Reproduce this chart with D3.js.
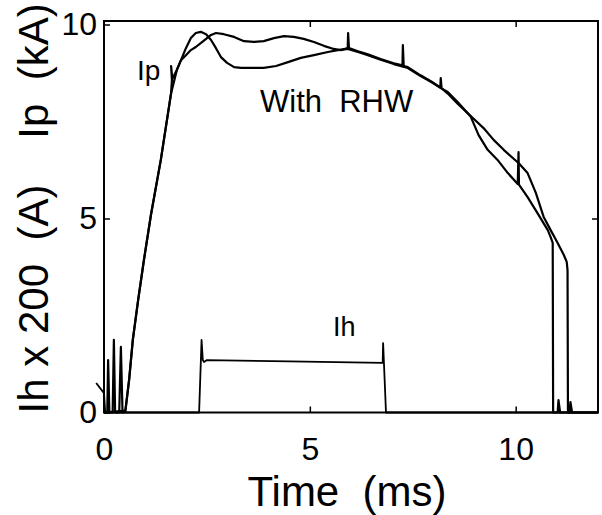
<!DOCTYPE html>
<html>
<head>
<meta charset="utf-8">
<script src="https://d3js.org/d3.v7.min.js"></script>
<style>
body { margin: 0; background: #fff; }
text { font-family: "Liberation Sans", Arial, sans-serif; fill: #000; }
</style>
</head>
<body>
<div id="chart"></div>
<script>
// Ip trace that peaks early then dips (time ms, current kA)
var ipDip = [
  [0, 0], [0.08, 0], [0.10, 1.35], [0.13, 0], [0.21, 0], [0.24, 1.87], [0.27, 0],
  [0.37, 0], [0.41, 1.69], [0.45, 0], [0.52, 0.05], [0.61, 0.84], [0.70, 1.87],
  [0.83, 2.90], [0.97, 3.93], [1.14, 5.09], [1.38, 6.51], [1.63, 8.23], [1.65, 8.57],
  [1.63, 8.93], [1.66, 8.60], [1.77, 8.83], [1.87, 9.08], [1.99, 9.39], [2.11, 9.65],
  [2.23, 9.78], [2.35, 9.81], [2.48, 9.75], [2.60, 9.60], [2.72, 9.39], [2.84, 9.16],
  [2.99, 9.01], [3.16, 8.90], [3.33, 8.88], [3.57, 8.88], [3.88, 8.88], [4.18, 8.93],
  [4.47, 9.03], [4.78, 9.14], [5.10, 9.21], [5.44, 9.29], [5.68, 9.34], [5.92, 9.37],
  [6.17, 9.29], [6.41, 9.21], [6.72, 9.09], [7.04, 8.98], [7.38, 8.88], [7.69, 8.67],
  [7.94, 8.52], [8.18, 8.36], [8.35, 8.26], [8.59, 8.00], [8.91, 7.62], [9.10, 7.15],
  [9.32, 6.77], [9.56, 6.51], [9.81, 6.17], [10.05, 5.89], [10.07, 6.71], [10.08, 5.87],
  [10.29, 5.55], [10.53, 5.14], [10.78, 4.70], [10.85, 4.52], [10.90, 4.37], [10.91, 0],
  [11.02, 0], [11.04, 0.32], [11.08, 0], [12, 0]
];

// Ip trace that stays high
var ipHigh = [
  [0, 0], [0.52, 0.05], [0.61, 0.84], [0.70, 1.87], [0.83, 2.90], [0.97, 3.93],
  [1.14, 5.09], [1.38, 6.51], [1.63, 8.23], [1.77, 8.83], [1.87, 9.08], [1.99, 9.21],
  [2.11, 9.34], [2.23, 9.42], [2.35, 9.52], [2.48, 9.63], [2.60, 9.73], [2.72, 9.78],
  [2.91, 9.75], [3.16, 9.68], [3.40, 9.57], [3.64, 9.55], [3.88, 9.57], [4.13, 9.65],
  [4.37, 9.70], [4.61, 9.68], [4.85, 9.63], [5.10, 9.55], [5.34, 9.45], [5.58, 9.37],
  [5.75, 9.34], [5.92, 9.39], [5.93, 9.78], [5.95, 9.39], [6.17, 9.31], [6.41, 9.23],
  [6.72, 9.11], [7.04, 9.00], [7.25, 8.95], [7.26, 9.47], [7.28, 8.93], [7.38, 8.90],
  [7.69, 8.69], [7.94, 8.54], [8.17, 8.38], [8.18, 8.62], [8.20, 8.36], [8.35, 8.22],
  [8.59, 7.96], [8.96, 7.59], [9.22, 7.33], [9.47, 7.02], [9.71, 6.77], [9.93, 6.56],
  [10.07, 6.43], [10.29, 6.17], [10.49, 5.66], [10.68, 5.04], [10.85, 4.70], [11.02, 4.37],
  [11.17, 4.06], [11.24, 3.88], [11.26, 3.67], [11.27, 0], [11.31, 0], [11.33, 0.27],
  [11.37, 0], [12, 0]
];

// Ih x 200 (A)
var ihTrace = [
  [-0.19, 0.76], [0, 0.50], [0.03, 0], [2.31, 0], [2.37, 1.87], [2.40, 1.35], [2.43, 1.30],
  [2.50, 1.35], [4.50, 1.32], [6.77, 1.28], [6.78, 1.79], [6.80, 1.28], [6.85, 0], [12, 0]
];

var xTicks = [0, 5, 10];
var yTicks = [0, 5, 10];

var svgWidth = 602;
var svgHeight = 515;

var margin = {
  top: 21,
  right: 4,
  bottom: 102.5,
  left: 104
};

var width = svgWidth - margin.left - margin.right;
var height = svgHeight - margin.top - margin.bottom;

var svg = d3.select("#chart")
  .append("svg")
  .attr("width", svgWidth)
  .attr("height", svgHeight);

var chartGroup = svg.append("g")
  .attr("transform", `translate(${margin.left}, ${margin.top})`);

var xScale = d3.scaleLinear().domain([0, 12]).range([0, width]);
var yScale = d3.scaleLinear().domain([0, 10.09]).range([height, 0]);

// axes, ticks point inward
var bottomAxis = d3.axisBottom(xScale).tickValues(xTicks).tickSizeInner(-6).tickSizeOuter(0).tickPadding(25);
var leftAxis = d3.axisLeft(yScale).tickValues(yTicks).tickSizeInner(-6).tickSizeOuter(0).tickPadding(7);
var topAxis = d3.axisTop(xScale).tickValues([5, 10]).tickSizeInner(-6).tickSizeOuter(0).tickFormat("");
var rightAxis = d3.axisRight(yScale).tickValues([5]).tickSizeInner(-6).tickSizeOuter(0).tickFormat("");

var gx = chartGroup.append("g")
  .attr("transform", `translate(0, ${height})`)
  .call(bottomAxis);
var gy = chartGroup.append("g").call(leftAxis);
var gt = chartGroup.append("g").call(topAxis);
var gr = chartGroup.append("g")
  .attr("transform", `translate(${width}, 0)`)
  .call(rightAxis);

[gx, gy, gt, gr].forEach(function(g) {
  g.select(".domain").remove();
  g.attr("font-family", null).attr("font-size", 32);
  g.selectAll("line").attr("stroke", "#000").attr("stroke-width", 1.5);
});
gx.selectAll("text").attr("fill", "#000");
gy.selectAll("text").attr("fill", "#000");

// frame
chartGroup.append("rect")
  .attr("x", 0)
  .attr("y", 0)
  .attr("width", width)
  .attr("height", height)
  .attr("fill", "none")
  .attr("stroke", "#000")
  .attr("stroke-width", 2);

var line = d3.line()
  .x(d => xScale(d[0]))
  .y(d => yScale(d[1]));

chartGroup.append("path")
  .datum(ihTrace)
  .attr("d", line)
  .attr("fill", "none")
  .attr("stroke", "#000")
  .attr("stroke-width", 1.8)
  .attr("stroke-linejoin", "round");

[ipDip, ipHigh].forEach(function(tr) {
  chartGroup.append("path")
    .datum(tr)
    .attr("d", line)
    .attr("fill", "none")
    .attr("stroke", "#000")
    .attr("stroke-width", 2.2)
    .attr("stroke-linejoin", "round");
});

// annotations
svg.append("text").attr("x", 137).attr("y", 80).attr("font-size", 28).text("Ip");
svg.append("text").attr("x", 260).attr("y", 112).attr("font-size", 31)
  .style("white-space", "pre").text("With  RHW");
svg.append("text").attr("x", 333).attr("y", 336).attr("font-size", 27).text("Ih");

// axis titles
svg.append("text")
  .attr("x", 347)
  .attr("y", 506)
  .attr("text-anchor", "middle")
  .attr("font-size", 42)
  .style("white-space", "pre")
  .text("Time  (ms)");

svg.append("text")
  .attr("transform", "translate(48, 71) rotate(-90)")
  .attr("text-anchor", "middle")
  .attr("font-size", 42)
  .style("white-space", "pre")
  .text("Ip  (kA)");

svg.append("text")
  .attr("transform", "translate(48, 299) rotate(-90)")
  .attr("text-anchor", "middle")
  .attr("font-size", 42)
  .style("white-space", "pre")
  .text("Ih x 200  (A)");
</script>
</body>
</html>
